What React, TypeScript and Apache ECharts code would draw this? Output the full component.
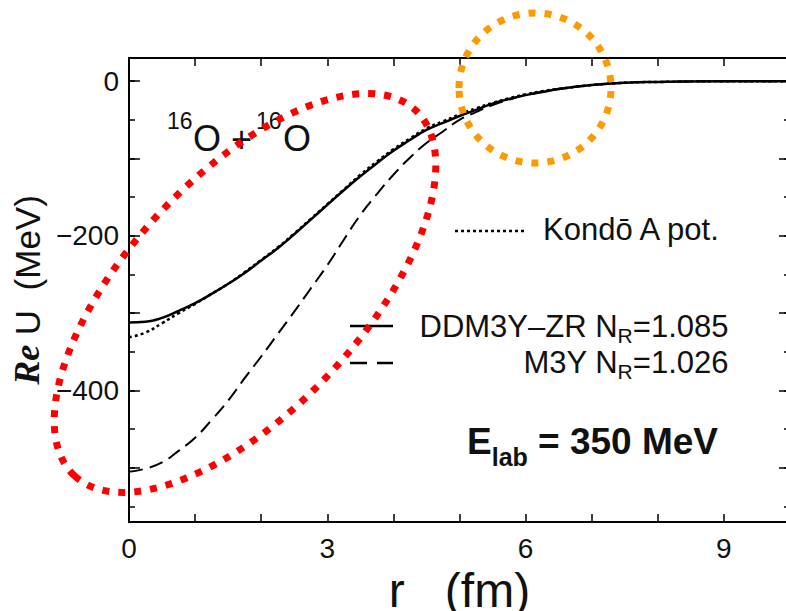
import React, { useEffect, useRef } from "react";
import * as echarts from "echarts";

// radius r (fm)
const R_FM = [0, 0.25, 0.5, 0.75, 1, 1.25, 1.5, 1.75, 2, 2.25, 2.5, 2.75, 3, 3.25, 3.5, 3.75, 4, 4.25, 4.5, 4.75, 5, 5.25, 5.5, 5.75, 6, 6.25, 6.5, 7, 7.5, 8, 9, 10];
// Re U (MeV)
const DDM3Y_ZR = [-312, -311, -306, -297, -287, -275, -262, -248, -232, -216, -198, -179, -160, -141, -123, -106, -90, -76, -63, -54, -45, -37, -29, -23, -18, -14, -10, -5, -2, -1, 0, 0];
const KONDO_A = [-331, -325, -313, -300, -288, -275, -262, -247, -231, -215, -197, -178, -159, -140, -121, -104, -88, -74, -61, -52, -43, -35, -28, -22, -17, -13, -10, -5, -2, -1, 0, 0];
const M3Y = [-505, -501, -493, -478, -461, -438, -413, -384, -356, -327, -298, -268, -238, -205, -173, -146, -121, -99, -80, -65, -50, -40, -31, -24, -18, -14, -10, -5, -2, -1, 0, 0];

const X_LABELS = [0, 3, 6, 9];
const Y_LABELS = [0, -200, -400];
const Y_MAJOR_TICKS = [0, -100, -200, -300, -400, -500];
const Y_MINOR_TICKS = [0, -50, -100, -150, -200, -250, -300, -350, -400, -450, -500, -550];

const FONT = "'Liberation Sans', Arial, sans-serif";
const INK = "#111";
const NB = "\u00a0";

function pairs(ys: number[]) {
  return R_FM.map((r, i) => [r, ys[i]]);
}

function yAxisDef(position: "left" | "right", ticks: number[], len: number, labels: boolean, name?: boolean) {
  const a: any = {
    type: "value",
    min: -570,
    max: 30,
    position,
    axisLine: { show: true, onZero: false, lineStyle: { color: "#000", width: 2 } },
    axisTick: { show: true, inside: true, length: len, customValues: ticks, lineStyle: { color: "#000", width: 1.5 } },
    axisLabel: labels
      ? {
          show: true,
          customValues: Y_LABELS,
          formatter: (v: number) => (v < 0 ? "\u2212" + Math.abs(v) : String(v)),
          fontSize: 28,
          fontFamily: FONT,
          color: INK,
          margin: 10,
        }
      : { show: false },
    splitLine: { show: false },
  };
  if (name) {
    a.name = "{re|Re}" + NB + "U" + NB + NB + "(MeV)";
    a.nameLocation = "middle";
    a.nameRotate = 90;
    a.nameGap = 82;
    a.nameTextStyle = {
      fontSize: 35,
      fontFamily: FONT,
      color: INK,
      rich: {
        re: { fontSize: 36, fontFamily: "'Liberation Serif', serif", fontStyle: "italic", fontWeight: "bold", color: INK },
      },
    };
  }
  return a;
}

function xAxisDef(position: "bottom" | "top", labels: boolean) {
  const a: any = {
    type: "value",
    min: 0,
    max: 10,
    interval: 1,
    position,
    axisLine: { show: true, onZero: false, lineStyle: { color: "#000", width: 2 } },
    axisTick: { show: true, inside: true, length: 8, lineStyle: { color: "#000", width: 1.5 } },
    axisLabel: labels
      ? {
          show: true,
          formatter: (v: number) => (X_LABELS.includes(v) ? String(v) : ""),
          fontSize: 28,
          fontFamily: FONT,
          color: INK,
          margin: 12,
        }
      : { show: false },
    splitLine: { show: false },
  };
  if (labels) {
    a.name = "r" + NB + NB + NB + "(fm)";
    a.nameLocation = "middle";
    a.nameGap = 29;
    a.nameTextStyle = { fontSize: 48, fontFamily: FONT, color: INK };
  }
  return a;
}

function txt(text: string, x: number, y: number, fontSize: number, opts: any = {}) {
  return {
    type: "text",
    x,
    y,
    z: 50,
    style: {
      text,
      fontSize,
      fontFamily: FONT,
      fill: INK,
      align: opts.align || "left",
      verticalAlign: "middle",
      fontWeight: opts.bold ? "bold" : "normal",
    },
  };
}

export default function App() {
  const ref = useRef<HTMLDivElement>(null);
  useEffect(() => {
    if (!ref.current) return;
    const chart = echarts.init(ref.current, null, { renderer: "svg" });
    const deg = Math.PI / 180;
    const option: any = {
      animation: false,
      backgroundColor: "#ffffff",
      grid: { left: 129, top: 58, width: 661, height: 464, containLabel: false, outerBoundsMode: "none" },
      xAxis: [xAxisDef("bottom", true), xAxisDef("top", false)],
      yAxis: [
        yAxisDef("left", Y_MAJOR_TICKS, 11, true, true),
        yAxisDef("left", Y_MINOR_TICKS, 6, false),
        yAxisDef("right", Y_MAJOR_TICKS, 11, false),
        yAxisDef("right", Y_MINOR_TICKS, 6, false),
      ],
      series: [
        {
          name: "DDM3Y–ZR",
          type: "line",
          data: pairs(DDM3Y_ZR),
          smooth: true,
          showSymbol: false,
          lineStyle: { color: "#000", width: 2.5, type: "solid" },
          z: 3,
        },
        {
          name: "Kondō A pot.",
          type: "line",
          data: pairs(KONDO_A),
          smooth: true,
          showSymbol: false,
          lineStyle: { color: "#000", width: 2.5, type: [3, 3] },
          z: 4,
        },
        {
          name: "M3Y",
          type: "line",
          data: pairs(M3Y),
          smooth: true,
          showSymbol: false,
          lineStyle: { color: "#000", width: 2, type: [14, 7] },
          z: 3,
        },
      ],
      graphic: [
        // reaction label
        txt("16", 167, 121, 23),
        txt("O", 193, 138.5, 36),
        txt("+", 231, 139, 36),
        txt("16", 256, 121, 23),
        txt("O", 283, 138.5, 36),
        // legend: Kondo
        { type: "line", z: 50, shape: { x1: 455, y1: 231, x2: 525, y2: 231 }, style: { stroke: "#000", lineWidth: 2.5, lineDash: [3, 3] } },
        txt("Kondō A pot.", 543, 229, 31),
        // legend: DDM3Y-ZR
        { type: "line", z: 50, shape: { x1: 350, y1: 326, x2: 393, y2: 326 }, style: { stroke: "#000", lineWidth: 2.5 } },
        txt("DDM3Y–ZR N", 419.5, 326, 31),
        txt("R", 617.6, 335.5, 21),
        txt("=1.085", 632.8, 326, 31),
        // legend: M3Y
        { type: "line", z: 50, shape: { x1: 350, y1: 363, x2: 393, y2: 363 }, style: { stroke: "#000", lineWidth: 2.5, lineDash: [17, 10] } },
        txt("M3Y N", 617.6, 362.5, 31, { align: "right" }),
        txt("R", 617.6, 371.5, 21),
        txt("=1.026", 632.8, 362.5, 31),
        // energy
        txt("E", 467, 441.5, 37, { bold: true }),
        txt("lab", 491.7, 457, 25, { bold: true }),
        txt("=" + NB + "350" + NB + "MeV", 538, 441.5, 37, { bold: true }),
        // annotation ellipses
        {
          type: "ellipse",
          z: 100,
          x: 245,
          y: 293,
          rotation: 47 * deg,
          shape: { cx: 0, cy: 0, rx: 250, ry: 117 },
          style: { fill: "none", stroke: "#ff0000", lineWidth: 7, lineDash: [7, 9] },
        },
        {
          type: "ellipse",
          z: 100,
          shape: { cx: 535, cy: 88, rx: 76, ry: 75 },
          style: { fill: "none", stroke: "#ff9900", lineWidth: 7, lineDash: [7, 9] },
        },
      ],
    };
    chart.setOption(option);
    return () => chart.dispose();
  }, []);
  return <div ref={ref} style={{ position: "absolute", left: 0, top: 0, width: 786, height: 611 }} />;
}
